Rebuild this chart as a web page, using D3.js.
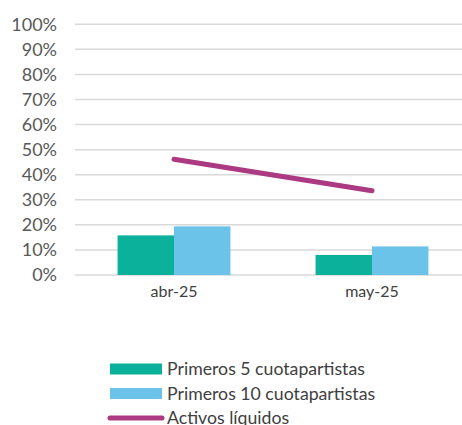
<!DOCTYPE html>
<html><head><meta charset="utf-8">
<script src="https://cdn.jsdelivr.net/npm/d3@7"></script>
<style>body{margin:0;background:#fff;} svg{display:block;font-family:Lato, "DejaVu Sans", sans-serif;}</style>
</head><body>
<svg id="c" width="462" height="425"></svg>
<script>
const categories = ["abr-25", "may-25"];
const top5 = [0.158, 0.080];
const top10 = [0.194, 0.114];
const liquidos = [0.462, 0.336];
const yTicks = [0,0.1,0.2,0.3,0.4,0.5,0.6,0.7,0.8,0.9,1.0];
const seriesNames = ["Primeros 5 cuotapartistas", "Primeros 10 cuotapartistas", "Activos líquidos"];
const colors = ["#0bb19a", "#6cc3ea", "#ab3a83"];

const svg = d3.select("#c");
const W = 462;
const x = d3.scaleBand().domain(categories).range([75, 471]);
const y = d3.scaleLinear().domain([0, 1]).range([275, 24.3]);

// gridlines
svg.append("g").selectAll("line").data(yTicks).join("line")
  .attr("x1", 75).attr("x2", W)
  .attr("y1", d => y(d)).attr("y2", d => y(d))
  .attr("stroke", "#d9d9d9").attr("stroke-width", 1.5);

// y axis labels
const yAxis = d3.axisLeft(y).tickValues(yTicks).tickFormat(d3.format(".0%")).tickSize(0).tickPadding(0);
const ya = svg.append("g").attr("transform", "translate(57,0)").call(yAxis);
ya.select(".domain").remove();
ya.selectAll("text").attr("font-size", 18).attr("fill", "#595959").attr("font-family", "Lato");

// x axis labels
const xAxis = d3.axisBottom(x).tickSize(0).tickPadding(0);
const xa = svg.append("g").attr("transform", "translate(0,286)").call(xAxis);
xa.select(".domain").remove();
xa.selectAll("text").attr("font-size", 16).attr("fill", "#404040").attr("font-family", "Lato");

const bw = x.bandwidth() * 0.285;
const g = svg.append("g");
g.selectAll(".b5").data(categories).join("rect")
  .attr("x", d => x(d) + x.bandwidth()/2 - bw)
  .attr("y", (d,i) => y(top5[i]))
  .attr("width", bw).attr("height", (d,i) => y(0) - y(top5[i]))
  .attr("fill", colors[0]);
g.selectAll(".b10").data(categories).join("rect")
  .attr("x", d => x(d) + x.bandwidth()/2)
  .attr("y", (d,i) => y(top10[i]))
  .attr("width", bw).attr("height", (d,i) => y(0) - y(top10[i]))
  .attr("fill", colors[1]);

const line = d3.line().x((d,i) => x(categories[i]) + x.bandwidth()/2).y(d => y(d));
svg.append("path").datum(liquidos).attr("d", line)
  .attr("fill", "none").attr("stroke", colors[2]).attr("stroke-width", 5).attr("stroke-linecap", "round");

// legend
const leg = svg.append("g");
const ly = [369, 393.5, 418];
leg.append("rect").attr("x", 110).attr("y", ly[0]-5.5).attr("width", 52).attr("height", 11).attr("fill", colors[0]);
leg.append("rect").attr("x", 110).attr("y", ly[1]-5.5).attr("width", 52).attr("height", 11).attr("fill", colors[1]);
leg.append("line").attr("x1", 110).attr("x2", 162).attr("y1", ly[2]).attr("y2", ly[2])
  .attr("stroke", colors[2]).attr("stroke-width", 5).attr("stroke-linecap", "round");
leg.selectAll("text").data(seriesNames).join("text")
  .attr("x", 167).attr("y", (d,i) => ly[i]).attr("dy", "0.35em")
  .attr("font-size", 17.7).attr("fill", "#404040").attr("font-family", "Lato")
  .text(d => d);
</script>
</body></html>
